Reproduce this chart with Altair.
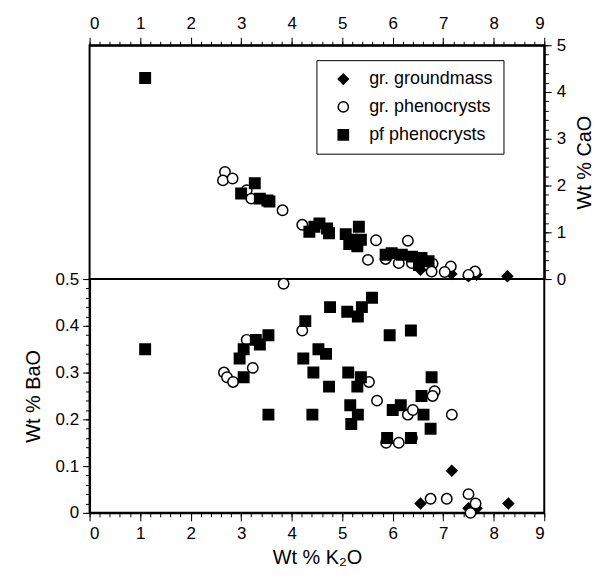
import altair as alt
import pandas as pd

FONT = "Liberation Sans"
TYPES = ["gr. groundmass", "gr. phenocrysts", "pf phenocrysts"]

# ---------------- Upper panel: Wt % CaO vs Wt % K2O ----------------
gm_k_cao = [6.55, 7.16, 7.50, 7.66, 8.27]
gm_cao = [0.20, 0.11, 0.06, 0.09, 0.06]

grph_k_cao = [2.68, 2.64, 2.83, 3.11, 3.20, 3.82, 4.21, 5.67, 5.51, 6.30,
              5.86, 6.12, 6.38, 6.79, 7.15, 6.77, 7.03, 7.63, 7.50]
grph_cao = [2.29, 2.11, 2.15, 1.90, 1.72, 1.47, 1.16, 0.83, 0.41, 0.82,
            0.43, 0.34, 0.34, 0.33, 0.27, 0.16, 0.15, 0.16, 0.09]

pf_k_cao = [1.10, 3.27, 3.00, 3.37, 3.52, 3.56, 4.35, 4.45, 4.55, 4.70,
            4.74, 5.07, 5.33, 5.20, 5.37, 5.14, 5.30, 5.86, 5.98, 6.18,
            6.38, 6.57, 6.71, 6.52]
pf_cao = [4.30, 2.05, 1.83, 1.72, 1.68, 1.66, 1.01, 1.12, 1.19, 1.08,
          0.98, 0.96, 1.12, 0.84, 0.84, 0.75, 0.70, 0.52, 0.55, 0.52,
          0.48, 0.45, 0.38, 0.30]

# ---------------- Lower panel: Wt % BaO vs Wt % K2O ----------------
gm_k_bao = [6.55, 7.17, 7.50, 7.66, 8.29]
gm_bao = [0.02, 0.09, 0.01, 0.01, 0.02]

grph_k_bao = [2.66, 2.72, 2.84, 3.11, 3.23, 3.84, 4.21, 5.53, 5.69, 6.30,
              6.40, 6.83, 6.79, 7.17, 5.87, 6.12, 6.38, 6.75, 7.07, 7.50,
              7.64, 7.54]
grph_bao = [0.30, 0.29, 0.28, 0.37, 0.31, 0.49, 0.39, 0.28, 0.24, 0.21,
            0.22, 0.26, 0.25, 0.21, 0.15, 0.15, 0.16, 0.03, 0.03, 0.04,
            0.02, 0.00]

pf_k_bao = [1.10, 2.97, 3.05, 3.05, 3.29, 3.37, 3.54, 3.54, 4.76, 5.10,
            5.39, 5.31, 5.59, 4.27, 5.94, 6.36, 4.53, 4.68, 4.23, 4.43,
            4.74, 5.12, 5.37, 5.30, 5.16, 5.31, 5.18, 4.41, 6.77, 6.57,
            6.00, 6.16, 6.61, 6.75, 5.89, 6.36]
pf_bao = [0.35, 0.33, 0.35, 0.29, 0.37, 0.36, 0.38, 0.21, 0.44, 0.43,
          0.44, 0.42, 0.46, 0.41, 0.38, 0.39, 0.35, 0.34, 0.33, 0.30,
          0.27, 0.30, 0.29, 0.27, 0.23, 0.21, 0.19, 0.21, 0.29, 0.25,
          0.22, 0.23, 0.21, 0.18, 0.16, 0.16]

X_MAJOR = [0, 1, 2, 3, 4, 5, 6, 7, 8, 9]
X_MINOR = [round(i * 0.2, 2) for i in range(46)]
CAO_MAJOR = [0, 1, 2, 3, 4, 5]
CAO_MINOR = [round(i * 0.2, 2) for i in range(26)]
BAO_MAJOR = [0, 0.1, 0.2, 0.3, 0.4, 0.5]
BAO_MINOR = [round(i * 0.02, 3) for i in range(26)]


def table(k, v, t, col):
    return pd.DataFrame({"K2O": k, col: v, "type": t})


top_df = pd.concat([
    table(gm_k_cao, gm_cao, TYPES[0], "CaO"),
    table(grph_k_cao, grph_cao, TYPES[1], "CaO"),
    table(pf_k_cao, pf_cao, TYPES[2], "CaO"),
], ignore_index=True)

bot_df = pd.concat([
    table(gm_k_bao, gm_bao, TYPES[0], "BaO"),
    table(grph_k_bao, grph_bao, TYPES[1], "BaO"),
    table(pf_k_bao, pf_bao, TYPES[2], "BaO"),
], ignore_index=True)

xscale = alt.Scale(domain=[0, 9], nice=False, zero=False)
cao_scale = alt.Scale(domain=[0, 5], nice=False)
bao_scale = alt.Scale(domain=[0, 0.5], nice=False)

legend_def = alt.Legend(
    title=None, orient="none", legendX=228, legendY=15,
    strokeColor="black", padding=10, rowPadding=10,
    symbolOffset=8, labelOffset=17, symbolSize=105,
    symbolStrokeWidth=1.5,
    labelFont=FONT, labelFontSize=18, labelColor="black",
    fillColor="white",
)


def style_enc(show_legend):
    lg = legend_def if show_legend else None
    return dict(
        shape=alt.Shape("type:N", scale=alt.Scale(domain=TYPES, range=["diamond", "circle", "square"]), legend=lg),
        fill=alt.Fill("type:N", scale=alt.Scale(domain=TYPES, range=["black", "white", "black"]), legend=lg),
        stroke=alt.Stroke("type:N", scale=alt.Scale(domain=TYPES, range=["black", "black", "black"]), legend=lg),
    )


mark_kw = dict(filled=True, size=110, strokeWidth=1.5, opacity=1)
tick_kw = dict(ticks=True, tickColor="black", tickWidth=1)

# ---- upper panel ----
top_minor = alt.Chart(top_df).mark_point(opacity=0).encode(
    x=alt.X("K2O:Q", scale=xscale, axis=alt.Axis(orient="top", values=X_MINOR, tickSize=4, labels=False, domain=False, title=None, **tick_kw)),
    y=alt.Y("CaO:Q", scale=cao_scale, axis=alt.Axis(orient="right", values=CAO_MINOR, tickSize=4, labels=False, domain=False, title=None, **tick_kw)),
)
top_pts = alt.Chart(top_df).mark_point(**mark_kw).encode(
    x=alt.X("K2O:Q", scale=xscale, axis=alt.Axis(orient="top", values=X_MAJOR, tickSize=8, labelPadding=5, title=None, **tick_kw)),
    y=alt.Y("CaO:Q", scale=cao_scale, axis=alt.Axis(orient="right", values=CAO_MAJOR, tickSize=7, labelPadding=5,
                                                    title="Wt % CaO", titleAngle=270, titleBaseline="top",
                                                    titlePadding=9, **tick_kw)),
    **style_enc(True),
)
top = alt.layer(top_minor, top_pts).resolve_axis(x="independent", y="independent").properties(width=457, height=235)

# ---- lower panel ----
bot_minor = alt.Chart(bot_df).mark_point(opacity=0).encode(
    x=alt.X("K2O:Q", scale=xscale, axis=alt.Axis(orient="bottom", values=X_MINOR, tickSize=4, labels=False, domain=False, title=None, **tick_kw)),
    y=alt.Y("BaO:Q", scale=bao_scale, axis=alt.Axis(orient="left", values=BAO_MINOR, tickSize=4, labels=False, domain=False, title=None, **tick_kw)),
)
bot_pts = alt.Chart(bot_df).mark_point(**mark_kw).encode(
    x=alt.X("K2O:Q", scale=xscale, axis=alt.Axis(orient="bottom", values=X_MAJOR, tickSize=8, labelPadding=5,
                                                 title="Wt % K₂O", titlePadding=6, **tick_kw)),
    y=alt.Y("BaO:Q", scale=bao_scale, axis=alt.Axis(orient="left", values=BAO_MAJOR, tickSize=7, labelPadding=4,
                                                    format=".1~f", title="Wt % BaO", titlePadding=12, **tick_kw)),
    **style_enc(False),
)
bot = alt.layer(bot_minor, bot_pts).resolve_axis(x="independent", y="independent").properties(width=457, height=235)

chart = alt.vconcat(top, bot, spacing=0, bounds="flush").resolve_legend(
    shape="independent", fill="independent", stroke="independent"
).properties(
    padding={"left": 14, "top": 4, "right": 0, "bottom": 0}
).configure_view(
    stroke="black", strokeWidth=2
).configure_axis(
    grid=False, domainColor="black", domainWidth=2,
    labelColor="black", titleColor="black", labelFont=FONT, titleFont=FONT,
    labelFontSize=17, titleFontSize=20, titleFontWeight="normal",
)

chart.save("out.html", embed_options={"renderer": "svg", "actions": False})
